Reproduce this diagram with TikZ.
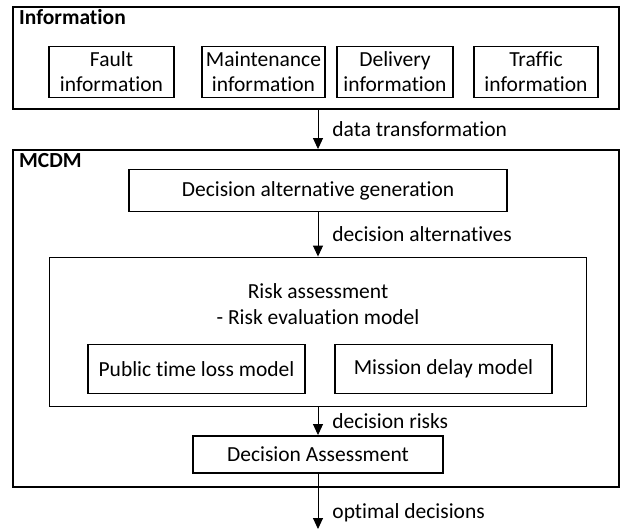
\documentclass[tikz,border=0pt]{standalone}
\usepackage{fontspec}
\setmainfont{Carlito}[Ligatures=NoCommon]
\usetikzlibrary{arrows.meta}
\begin{document}
\begin{tikzpicture}[x=1pt,y=-1pt,
  every node/.style={font=\fontsize{21.5}{25}\selectfont, inner sep=0pt},
  box/.style={draw, line width=1.9pt, align=center},
  title/.style={font=\fontsize{21.5}{25}\selectfont\bfseries, anchor=north west},
  lbl/.style={anchor=west},
  arr/.style={line width=0.9pt, -{Triangle[width=10pt,length=11pt]}}]
\useasboundingbox (0,0) rectangle (621,531);
% Information block
\node[box, minimum width=606pt, minimum height=102pt] (info) at (316,58) {};
\node[title] (infot) at (19,9) {Information};
\node[box, minimum width=125pt, minimum height=51pt] (fault) at (111.5,72) {Fault\\information};
\node[box, minimum width=123pt, minimum height=51pt] (maint) at (263.5,72) {Maintenance\\information};
\node[box, minimum width=116pt, minimum height=51pt] (deliv) at (395,72) {Delivery\\information};
\node[box, minimum width=124pt, minimum height=51pt] (traf) at (536,72) {Traffic\\information};
% MCDM block
\node[box, minimum width=606pt, minimum height=337pt] (mcdm) at (316,318.5) {};
\node[title] (mcdmt) at (19,153) {MCDM};
\node[box, minimum width=378pt, minimum height=42pt] (dag) at (318,190.5) {Decision alternative generation};
\node[box, minimum width=537pt, minimum height=149pt] (risk) at (318,332) {};
\node[align=center, font=\fontsize{21.5}{26}\selectfont] (riskt) at (318,304) {Risk assessment\\- Risk evaluation model};
\node[box, minimum width=217pt, minimum height=49pt] (ptl) at (196.5,369) {Public time loss model};
\node[box, minimum width=217pt, minimum height=49pt] (mdm) at (443.5,369) {Mission delay model};
\node[box, minimum width=250pt, minimum height=37pt] (da) at (318,454.5) {Decision Assessment};
\coordinate (out) at (318,529);
% connectors
\draw[arr] (dag.center |- info.south) -- node[lbl, xshift=14pt] (l1) {data transformation} (dag.center |- mcdm.north);
\draw[arr] (dag.south) -- node[lbl, xshift=14pt] (l2) {decision alternatives} (dag.center |- risk.north);
\draw[arr] (dag.center |- risk.south) -- node[lbl, xshift=14pt] (l3) {decision risks} (da.north);
\draw[arr] (da.south) -- (out) node[lbl, pos=0.7, xshift=14pt] (l4) {optimal decisions};
\end{tikzpicture}
\end{document}
